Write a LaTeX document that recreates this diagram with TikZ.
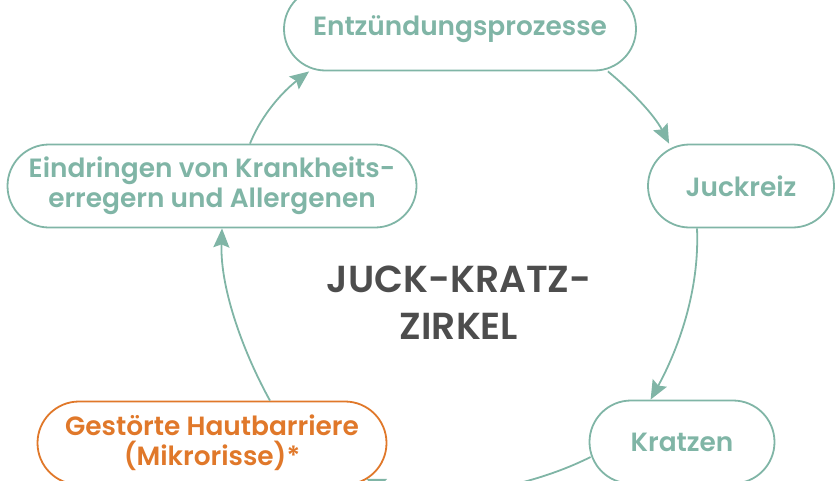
\documentclass[tikz,border=0pt]{standalone}
\usepackage{fontspec}
\setmainfont{Poppins}[UprightFont={* Medium},BoldFont={* SemiBold}]
\usetikzlibrary{arrows.meta,calc}
\definecolor{teal}{HTML}{80B5A6}
\definecolor{orng}{HTML}{E0782A}
\definecolor{dgrey}{HTML}{4D4D4D}
\tikzset{
  stadium/.style={draw=teal,line width=1.8pt,rounded corners=41.5pt,minimum height=83pt,
     inner sep=0pt,align=center,text=teal,font=\bfseries\fontsize{26.4}{30}\selectfont},
  orangebox/.style={stadium,draw=orng,text=orng},
  link/.style={draw=teal,line width=1.8pt,-{Stealth[length=19pt,width=16pt,inset=3pt]}}
}
\begin{document}
\begin{tikzpicture}[x=1pt,y=-1pt]
\useasboundingbox (0,0) rectangle (840,480);
\clip (0,0) rectangle (840,480);
\node[stadium,minimum width=352pt] (ent) at (460,29) {Entzündungsprozesse};
\node[stadium,minimum width=186pt] (juck) at (741,186) {Juckreiz};
\node[stadium,minimum width=185pt] (kratz) at (682,442) {Kratzen};
\node[orangebox,minimum width=349pt] (gest) at (212,443) {Gestörte Hautbarriere\\(Mikrorisse)*};
\node[stadium,minimum width=409pt] (eind) at (212,186) {Eindringen von Krankheits-\\erregern und Allergenen};
\node[text=dgrey,font=\bfseries\fontsize{37.6}{47}\selectfont,align=center] (title) at (459,303) {JUCK-KRATZ-\\ZIRKEL};
\coordinate (a1) at ($(eind.north)+(38,0)$);
\coordinate (b1) at ($(ent.south west)+(26,0)$);
\draw[link] (a1) .. controls ($(a1)+(12,-30)$) and ($(b1)+(-25,19)$) .. (b1);
\coordinate (a2) at ($(ent.south east)+(-29,0)$);
\coordinate (b2) at ($(juck.north west)+(22,0)$);
\draw[link] (a2) .. controls ($(a2)+(23,19)$) and ($(b2)+(-15,-29)$) .. (b2);
\coordinate (a3) at ($(juck.south)+(-44,0)$);
\coordinate (b3) at ($(kratz.north west)+(62,0)$);
\draw[link] (a3) .. controls ($(a3)+(3,70)$) and ($(b3)+(22,-40)$) .. (b3);
\coordinate (a4) at ($(kratz.west)+(2,15)$);
\coordinate (b4) at ($(gest.east)+(-21,36)$);
\draw[link] (a4) .. controls ($(a4)+(-70,35)$) and ($(b4)+(60,25)$) .. (b4);
\coordinate (a5) at ($(gest.north)+(58,0)$);
\coordinate (b5) at ($(eind.south)+(10,0)$);
\draw[link] (a5) .. controls ($(a5)+(-25,-45)$) and ($(b5)+(-2,62)$) .. (b5);
\end{tikzpicture}
\end{document}
